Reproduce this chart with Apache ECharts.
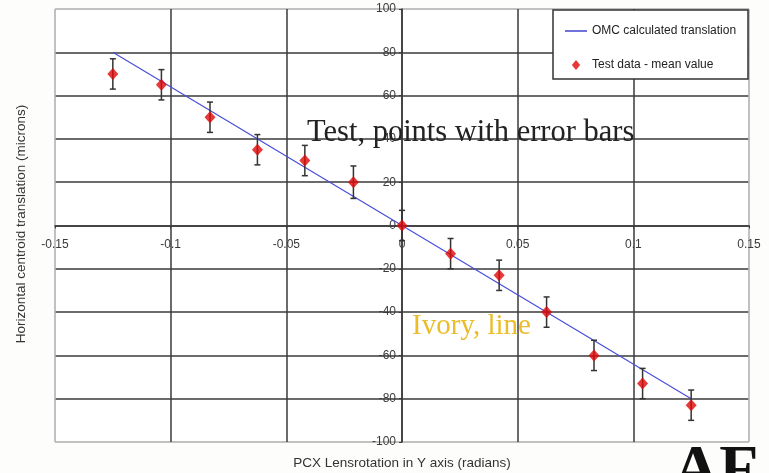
<!DOCTYPE html>
<html>
<head>
<meta charset="utf-8">
<script src="https://cdn.jsdelivr.net/npm/echarts@6/dist/echarts.min.js"></script>
<style>
html,body{margin:0;padding:0;background:#fdfdfb;}
#chart{width:769px;height:473px;}
</style>
</head>
<body>
<div id="chart"></div>
<script>
// ---- data ----
var xValues = [-0.125, -0.104, -0.083, -0.0625, -0.042, -0.021, 0, 0.021, 0.042, 0.0625, 0.083, 0.104, 0.125];
var meanValues = [70, 65, 50, 35, 30, 20, 0, -13, -23, -40, -60, -73, -83];
var errValues = [7, 7, 7, 7, 7, 7.5, 7, 7, 7, 7, 7, 7, 7];
var lineX = [-0.125, 0, 0.125];
var lineY = [80, 0, -80];
var xTicks = [-0.15, -0.1, -0.05, 0, 0.05, 0.1, 0.15];
var yTicks = [-100, -80, -60, -40, -20, 0, 20, 40, 60, 80, 100];
var seriesNames = ['OMC calculated translation', 'Test data - mean value'];
var xTitle = 'PCX Lensrotation in Y axis (radians)';
var yTitle = 'Horizontal centroid translation (microns)';
var note1 = 'Test, points with error bars';
var note2 = 'Ivory, line';
var corner = 'AF';

var W = 769, H = 473;
var G = { left: 55, right: 20, top: 9, bottom: 31 };
var chart = echarts.init(document.getElementById('chart'));
var scatterData = xValues.map(function (x, i) { return [x, meanValues[i]]; });
var errData = xValues.map(function (x, i) { return [x, meanValues[i] - errValues[i], meanValues[i] + errValues[i]]; });
var lineData = lineX.map(function (x, i) { return [x, lineY[i]]; });

// offsets that put each axis on the other's zero
var plotW = W - G.left - G.right, plotH = H - G.top - G.bottom;
var xMin = xTicks[0], xMax = xTicks[xTicks.length - 1];
var yMin = yTicks[0], yMax = yTicks[yTicks.length - 1];
var yAxisOffset = -plotW * (0 - xMin) / (xMax - xMin);
var xAxisOffset = -plotH * (0 - yMin) / (yMax - yMin);

function gridColors(n) {
  var c = [];
  for (var i = 0; i < n; i++) c.push(i === 0 || i === n - 1 ? '#b8b8b8' : '#3a3a3a');
  return c;
}

var option = {
  backgroundColor: '#fdfdfb',
  animation: false,
  grid: { left: G.left, right: G.right, top: G.top, bottom: G.bottom, show: true, borderColor: '#b8b8b8', borderWidth: 1, backgroundColor: '#ffffff' },
  xAxis: {
    type: 'value', min: xMin, max: xMax, interval: 0.05, offset: xAxisOffset,
    axisLine: { onZero: false, lineStyle: { color: '#3a3a3a', width: 1.5 } },
    axisTick: { show: true, length: 3, lineStyle: { color: '#3a3a3a' } },
    axisLabel: { margin: 13, color: '#3a3a3a', fontSize: 12, fontFamily: 'Liberation Sans, Arial, sans-serif', showMinLabel: true, showMaxLabel: true },
    splitLine: { show: true, lineStyle: { color: gridColors(xTicks.length), width: 1.5 } }
  },
  yAxis: {
    type: 'value', min: yMin, max: yMax, interval: 20, offset: yAxisOffset,
    axisLine: { onZero: false, lineStyle: { color: '#3a3a3a', width: 1.5 } },
    axisTick: { show: true, length: 3, lineStyle: { color: '#3a3a3a' } },
    axisLabel: { margin: 6, color: '#3a3a3a', fontSize: 12, fontFamily: 'Liberation Sans, Arial, sans-serif', showMinLabel: true, showMaxLabel: true },
    splitLine: { show: true, lineStyle: { color: gridColors(yTicks.length), width: 1.5 } }
  },
  legend: {
    orient: 'vertical', left: 565, top: 25, itemGap: 22, itemWidth: 22, itemHeight: 10,
    padding: 0, z: 20, symbolKeepAspect: true,
    textStyle: { fontSize: 12, color: '#222', fontFamily: 'Liberation Sans, Arial, sans-serif' },
    data: [
      { name: seriesNames[0], icon: 'path://M0,0 L24,0 L24,1.6 L0,1.6 Z', itemStyle: { color: '#3c40d0' } },
      { name: seriesNames[1], icon: 'path://M5,0 L10,6 L5,12 L0,6 Z', itemStyle: { color: '#e00808' } }
    ]
  },
  graphic: [
    { type: 'rect', z: 15, shape: { x: 553, y: 10, width: 195, height: 69 }, style: { fill: '#ffffff', stroke: '#333', lineWidth: 1.5 } },
    { type: 'text', z: 30, left: 307, top: 117, style: { text: note1, font: '30.5px "Liberation Serif", "Times New Roman", serif', fill: '#222' } },
    { type: 'text', z: 30, left: 412, top: 312, style: { text: note2, font: '29px "Liberation Serif", "Times New Roman", serif', fill: '#ebbd2a' } },
    { type: 'text', z: 30, left: 673, top: 440, style: { text: corner, font: 'bold 64px "Liberation Serif", "Times New Roman", serif', fill: '#111' } },
    { type: 'text', z: 30, x: 402, y: 463, style: { text: xTitle, font: '13.5px "Liberation Sans", Arial, sans-serif', fill: '#333', align: 'center', verticalAlign: 'middle' } },
    { type: 'text', z: 30, x: 21, y: 224, rotation: Math.PI / 2, style: { text: yTitle, font: '13.5px "Liberation Sans", Arial, sans-serif', fill: '#333', align: 'center', verticalAlign: 'middle' } }
  ],
  series: [
    {
      name: seriesNames[0], type: 'line', data: lineData, showSymbol: false, symbol: 'none',
      lineStyle: { color: '#4a4ed8', width: 1.2 }, itemStyle: { color: '#4a4ed8' }, z: 3
    },
    {
      name: 'err', type: 'custom', data: errData, z: 4,
      renderItem: function (params, api) {
        var x = api.value(0);
        var lo = api.coord([x, api.value(1)]);
        var hi = api.coord([x, api.value(2)]);
        var cw = 3;
        var st = { stroke: '#333', lineWidth: 1.5, fill: null };
        return {
          type: 'group',
          children: [
            { type: 'line', shape: { x1: lo[0], y1: lo[1], x2: hi[0], y2: hi[1] }, style: st },
            { type: 'line', shape: { x1: lo[0] - cw, y1: lo[1], x2: lo[0] + cw, y2: lo[1] }, style: st },
            { type: 'line', shape: { x1: hi[0] - cw, y1: hi[1], x2: hi[0] + cw, y2: hi[1] }, style: st }
          ]
        };
      }
    },
    {
      name: seriesNames[1], type: 'scatter', data: scatterData, symbol: 'diamond', symbolSize: [11, 12],
      itemStyle: { color: '#e00808' }, z: 5
    }
  ]
};
chart.setOption(option);
</script>
</body>
</html>
